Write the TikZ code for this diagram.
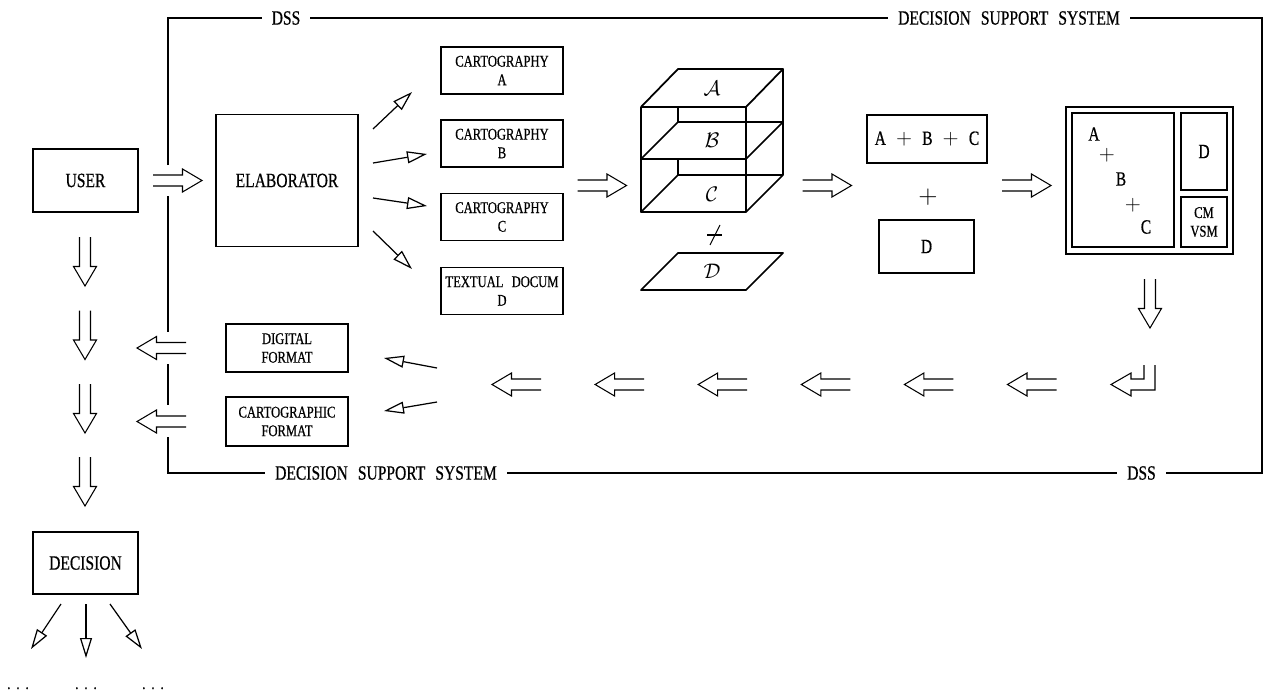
\documentclass[tikz,border=0pt]{standalone}
\usepackage{fontspec}
\setmainfont{Liberation Serif}[FakeStretch=0.77, WordSpace=2.6, FakeBold=0.6]
\usetikzlibrary{arrows.meta}

\tikzset{
    box/.style={draw, line width=1pt, inner sep=0pt},
    big/.style={font=\fontsize{11.5}{13}\selectfont},
    small/.style={font=\fontsize{9.3}{10.6}\selectfont, align=center},
    frame/.style={line width=1pt},
    cube/.style={line width=1pt, line join=round},
    thinarrow/.style={line width=0.7pt, -{Triangle[open, length=0.4cm, width=0.24cm]}},
    dblarrow/.pic={\draw[line width=0.6pt] (-24.5,-5.5) -- (5,-5.5) -- (5,-11.5) -- (24.5,0) -- (5,11.5) -- (5,5.5) -- (-24.5,5.5);}
}

\begin{document}
\begin{tikzpicture}[x=0.02cm, y=-0.02cm]
    \useasboundingbox (0,0) rectangle (1269,693);

    \draw[frame] (168,165) -- (168,18) -- (1262,18) -- (1262,473) -- (168,473) -- (168,437);
    \draw[frame] (168,196) -- (168,332);
    \draw[frame] (168,364) -- (168,405);

    \node[big, fill=white, inner xsep=0.2cm] (dssTop) at (286,18) {DSS};
    \node[big, fill=white, inner xsep=0.2cm] (dssTopLong) at (1009,18) {DECISION SUPPORT SYSTEM};
    \node[big, fill=white, inner xsep=0.2cm] (dssBotLong) at (386,473) {DECISION SUPPORT SYSTEM};
    \node[big, fill=white, inner xsep=0.2cm] (dssBot) at (1141.5,473) {DSS};

    \node[box, big, minimum width=2.1cm, minimum height=1.26cm] (user) at (85.5,180.5) {USER};
    \node[box, big, minimum width=2.84cm, minimum height=2.64cm] (elab) at (287,180.5) {ELABORATOR};

    \node[box, small, minimum width=2.44cm, minimum height=0.94cm] (cartA) at (502,70.5) {CARTOGRAPHY\\A};
    \node[box, small, minimum width=2.44cm, minimum height=0.94cm] (cartB) at (502,143.5) {CARTOGRAPHY\\B};
    \node[box, small, minimum width=2.44cm, minimum height=0.94cm] (cartC) at (502,217) {CARTOGRAPHY\\C};
    \node[box, small, minimum width=2.44cm, minimum height=0.94cm] (textD) at (502,291) {TEXTUAL DOCUM\\D};

    \coordinate (e1) at (373,129); \coordinate (c1) at (412,92);
    \coordinate (e2) at (373,163); \coordinate (c2) at (427,154);
    \coordinate (e3) at (373,198); \coordinate (c3) at (427,206);
    \coordinate (e4) at (373,231); \coordinate (c4) at (412,269);
    \foreach \i in {1,...,4} {
        \draw[thinarrow] (e\i) -- (c\i);
    }

    % layered block
    \foreach \f/\b in {107/69, 159/122, 212/175, 290/253} {
        \draw[cube] (641,\f) -- (746,\f) -- (783,\b) -- (678,\b) -- cycle;
    }
    \draw[cube] (641,107) -- (641,212);
    \draw[cube] (746,107) -- (746,212);
    \draw[cube] (783,69) -- (783,175);
    \draw[cube] (678,107) -- (678,122);
    \draw[cube] (678,159) -- (678,175);
    \node[big] (layA) at (712,88) {$\mathcal{A}$};
    \node[big] (layB) at (712,140) {$\mathcal{B}$};
    \node[big] (layC) at (712,194) {$\mathcal{C}$};
    \node[big] (layD) at (712,271) {$\mathcal{D}$};
    \draw[line width=0.6pt] (707,235) -- (722,235);
    \draw[line width=0.6pt] (710,245) -- (720,225);

    \node[box, big, minimum width=2.4cm, minimum height=0.96cm] (sum) at (927,139) {A $+$ B $+$ C};
    \node[font=\fontsize{15}{17}\selectfont] (plus) at (928,197) {$+$};
    \node[box, big, minimum width=1.9cm, minimum height=1.06cm] (docD) at (926.5,246.5) {D};

    \node[box, minimum width=3.34cm, minimum height=2.94cm] (screen) at (1149.5,180.5) {};
    \node[draw, line width=0.8pt, minimum width=2.04cm, minimum height=2.68cm] (map) at (1123,180) {};
    \node[draw, line width=0.8pt, big, minimum width=0.92cm, minimum height=1.54cm] (panelD) at (1204,151.5) {D};
    \node[draw, line width=0.8pt, small, minimum width=0.92cm, minimum height=1cm, inner sep=0pt] (panelCM) at (1204,222) {CM\\VSM};
    \node[big] (mA) at (1094,134) {A};
    \node[big] (mP1) at (1107,155) {$+$};
    \node[big] (mB) at (1121,179) {B};
    \node[big] (mP2) at (1133,205) {$+$};
    \node[big] (mC) at (1146,227) {C};

    \foreach \x/\y in {177.5/180.5, 602/185.5, 827/185.5, 1026.5/185.5} {
        \pic at (\x,\y) {dblarrow};
    }
    \pic[rotate=-90] at (1150,303.5) {dblarrow};
    \draw[line width=0.6pt] (1144,365) -- (1144,379) -- (1131,379) -- (1131,373) -- (1111,384.5) -- (1131,396) -- (1131,390) -- (1155,390) -- (1155,365);
    \foreach \x in {516.5,619.6,722.7,825.8,928.9,1032} {
        \pic[rotate=180] at (\x,384.5) {dblarrow};
    }

    \node[box, small, minimum width=2.44cm, minimum height=0.96cm] (digital) at (287,348) {DIGITAL\\FORMAT};
    \node[box, small, minimum width=2.44cm, minimum height=0.98cm] (cartoFmt) at (287,421.5) {CARTOGRAPHIC\\FORMAT};
    \coordinate (r1) at (437,368); \coordinate (f1) at (384,358);
    \coordinate (r2) at (437,402); \coordinate (f2) at (384,411);
    \draw[thinarrow] (r1) -- (f1);
    \draw[thinarrow] (r2) -- (f2);
    \foreach \y in {348,421.5} {
        \pic[rotate=180] at (161.5,\y) {dblarrow};
    }

    \foreach \y in {261.5,335,408.5,481.5} {
        \pic[rotate=-90] at (85,\y) {dblarrow};
    }
    \node[box, big, minimum width=2.1cm, minimum height=1.24cm] (decision) at (85.5,563) {DECISION};
    \coordinate (d1) at (61,604);  \coordinate (o1) at (31,649);
    \coordinate (d2) at (86,604);  \coordinate (o2) at (86,658);
    \coordinate (d3) at (110,604); \coordinate (o3) at (142,649);
    \foreach \i in {1,2,3} {
        \draw[thinarrow] (d\i) -- (o\i);
    }
    \node[small, anchor=base] (out1) at (18,689) {.\hspace{0.12cm}.\hspace{0.12cm}.};
    \node[small, anchor=base] (out2) at (86,689) {.\hspace{0.12cm}.\hspace{0.12cm}.};
    \node[small, anchor=base] (out3) at (153,689) {.\hspace{0.12cm}.\hspace{0.12cm}.};

\end{tikzpicture}
\end{document}
